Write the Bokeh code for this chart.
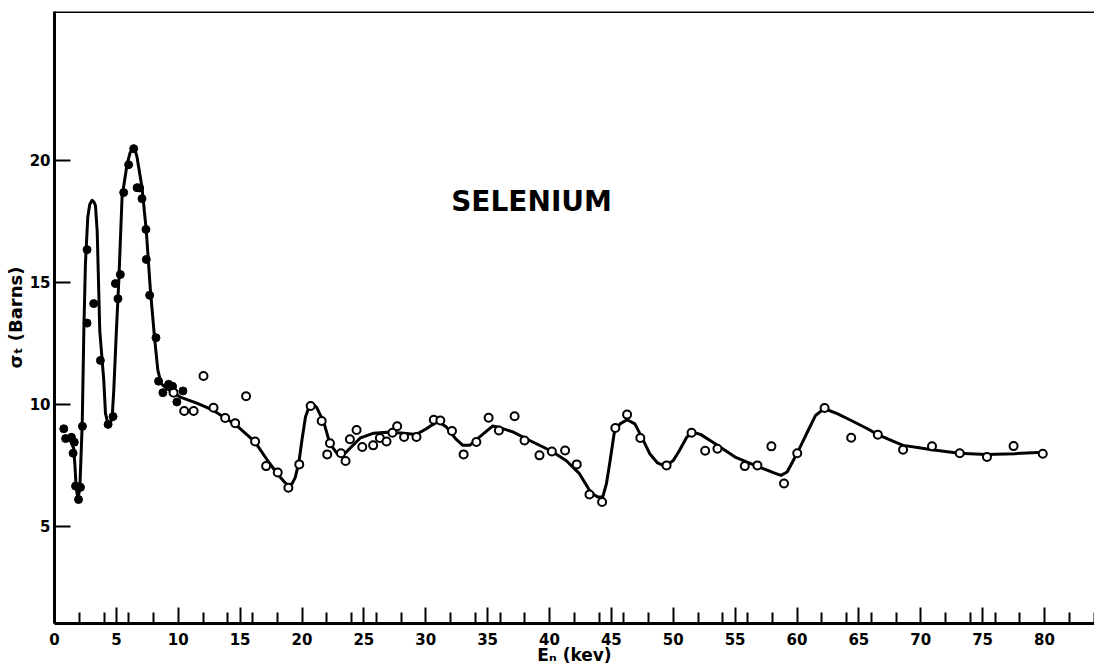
from bokeh.plotting import figure
from bokeh.models import FixedTicker, Range1d, Span, Label
from bokeh.embed import file_html
from bokeh.resources import INLINE

# Total neutron cross section of selenium vs neutron energy
# Filled points: low-energy measurements
filled_e = [0.75, 0.9, 1.37, 1.6, 1.5, 1.7, 1.94, 2.1, 2.26, 2.63, 2.63, 3.17,
            3.71, 4.33, 4.73, 4.92, 5.13, 5.32, 5.59, 5.99, 6.4, 6.67, 6.88,
            7.07, 7.39, 7.42, 7.69, 8.2, 8.41, 8.76, 9.22, 9.54, 9.89, 10.38]
filled_sigma = [9.0, 8.6, 8.65, 8.45, 8.0, 6.65, 6.1, 6.6, 9.1, 13.33, 16.34, 14.13,
                11.8, 9.18, 9.5, 14.95, 14.33, 15.32, 18.68, 19.82, 20.48, 18.88, 18.87,
                18.43, 17.17, 15.94, 14.47, 12.73, 10.95, 10.48, 10.82, 10.74, 10.1, 10.55]

# Open points: higher-energy measurements
open_e = [9.62, 10.48, 11.24, 12.04, 12.85, 13.79, 14.6, 15.48, 16.21, 17.1, 18.04,
          18.9, 19.78, 20.7, 21.59, 22.26, 22.04, 23.15, 23.52, 23.87, 24.41, 24.87,
          25.75, 26.29, 26.83, 27.31, 27.69, 28.25, 29.25, 30.65, 31.18, 32.12, 33.06,
          34.09, 35.08, 35.91, 37.18, 37.98, 39.19, 40.19, 41.26, 42.2, 43.23, 44.25,
          45.32, 46.27, 47.34, 49.46, 51.48, 52.58, 53.57, 55.78, 56.8, 57.93, 58.95,
          60.02, 62.23, 64.38, 66.53, 68.57, 70.91, 73.15, 75.35, 77.5, 79.86]
open_sigma = [10.48, 9.73, 9.73, 11.16, 9.86, 9.44, 9.23, 10.33, 8.48, 7.47, 7.21,
              6.58, 7.54, 9.93, 9.32, 8.41, 7.95, 8.0, 7.68, 8.57, 8.95, 8.25,
              8.32, 8.62, 8.48, 8.84, 9.1, 8.66, 8.66, 9.37, 9.34, 8.91, 7.95,
              8.46, 9.45, 8.93, 9.51, 8.52, 7.91, 8.07, 8.11, 7.54, 6.31, 6.0,
              9.03, 9.58, 8.62, 7.5, 8.84, 8.1, 8.18, 7.47, 7.5, 8.28, 6.76,
              8.0, 9.85, 8.63, 8.76, 8.14, 8.28, 8.0, 7.84, 8.29, 7.98]

# Hand-drawn fitted curve through the data
curve_e = [0.9, 1.3, 1.55, 1.65, 1.75, 1.9, 2.05, 2.24, 2.37, 2.5, 2.69, 2.85, 3.04,
           3.18, 3.31, 3.45, 3.66, 3.98, 4.12, 4.33, 4.5, 4.66, 4.79, 5.0, 5.2, 5.46,
           5.87, 6.1, 6.35, 6.5, 6.67, 7.07, 7.42, 7.75, 8.08, 8.35, 8.62, 9.1,
           10.16, 11.5, 12.85, 14.7, 16.2, 17.15, 17.8, 18.3, 18.65, 18.9, 19.2,
           19.45, 19.74, 20.0, 20.28, 20.5, 20.7, 20.95, 21.17, 21.76, 22.25, 22.84,
           23.25, 23.92, 24.73, 25.8, 26.8, 28.0, 29.25, 30.05, 30.5, 30.9, 31.3,
           31.67, 32.4, 33.0, 33.55, 34.5, 35.4, 35.97, 37.04, 38.4, 40.14, 41.34,
           42.42, 43.23, 43.6, 43.9, 44.3, 44.6, 44.9, 45.24, 45.7, 46.27, 46.9,
           47.45, 48.1, 48.73, 49.1, 49.46, 50.0, 50.5, 51.1, 51.57, 52.2, 53.2,
           55.0, 56.94, 58.2, 58.7, 59.2, 59.7, 60.25, 60.9, 61.5, 61.9, 62.23,
           63.25, 64.38, 65.7, 66.53, 67.8, 68.57, 70.0, 70.9, 73.1, 75.3, 77.6, 79.86]
curve_sigma = [8.6, 8.5, 8.2, 7.5, 6.6, 6.1, 6.6, 9.2, 13.0, 15.77, 17.68, 18.2, 18.36,
               18.3, 18.15, 17.1, 13.0, 11.0, 9.63, 9.18, 9.2, 9.48, 10.57, 13.0, 15.1, 18.5,
               19.86, 20.3, 20.52, 20.45, 20.13, 18.9, 17.1, 14.67, 12.76, 11.4, 10.85, 10.64,
               10.3, 10.05, 9.75, 9.14, 8.46, 7.75, 7.3, 6.98, 6.78, 6.68, 6.75,
               7.0, 7.6, 8.55, 9.48, 9.8, 9.96, 9.98, 9.89, 9.27, 8.39, 7.98,
               7.88, 8.22, 8.63, 8.82, 8.86, 8.83, 8.77, 9.0, 9.15, 9.27, 9.2,
               9.07, 8.6, 8.32, 8.32, 8.73, 9.11, 9.05, 8.87, 8.52, 8.09, 7.7,
               7.16, 6.48, 6.3, 6.2, 6.2, 6.75, 7.7, 8.86, 9.2, 9.37, 9.2,
               8.66, 7.98, 7.6, 7.52, 7.5, 7.7, 8.11, 8.66, 8.86, 8.77, 8.45,
               7.84, 7.43, 7.18, 7.09, 7.23, 7.7, 8.25, 8.93, 9.55, 9.71, 9.82,
               9.62, 9.34, 9.0, 8.76, 8.48, 8.32, 8.21, 8.14, 8.0, 7.95, 7.98, 8.04]

x_major = [0, 5, 10, 15, 20, 25, 30, 35, 40, 45, 50, 55, 60, 65, 70, 75, 80]
x_minor = [2, 4, 6, 8, 12, 14, 16, 18, 22, 24, 26, 28, 32, 34, 36, 38, 42, 44, 46, 48,
           52, 54, 56, 58, 62, 64, 66, 68, 72, 74, 76, 78, 82, 84]
y_major = [5, 10, 15, 20]

FONT = "DejaVu Sans"

p = figure(width=1094, height=668, output_backend="svg", toolbar_location=None,
           x_range=Range1d(0, 84.04), y_range=Range1d(1.02, 26.1),
           min_border_left=54, min_border_right=0, min_border_top=11,
           min_border_bottom=45)
p.outline_line_color = None
p.grid.visible = False
p.background_fill_color = "white"
p.border_fill_color = "white"

# Bottom axis: inward ticks, long at multiples of 5
xa = p.xaxis[0]
xa.ticker = FixedTicker(ticks=x_major, minor_ticks=x_minor)
xa.axis_line_width = 3
xa.major_tick_in = 16
xa.major_tick_out = 0
xa.minor_tick_in = 11
xa.minor_tick_out = 0
xa.major_tick_line_width = 2
xa.minor_tick_line_width = 2
xa.major_label_standoff = 9
xa.major_label_text_font = FONT
xa.major_label_text_font_style = "bold"
xa.major_label_text_font_size = "15px"
xa.major_label_text_color = "black"
xa.axis_label = "Eₙ (kev)"
xa.axis_label_text_font = FONT
xa.axis_label_text_font_style = "bold"
xa.axis_label_text_font_size = "17px"
xa.axis_label_text_color = "black"
xa.axis_label_standoff = -3

# Left axis
ya = p.yaxis[0]
ya.ticker = FixedTicker(ticks=y_major)
ya.axis_line_width = 3
ya.major_tick_in = 16
ya.major_tick_out = 0
ya.minor_tick_in = 0
ya.minor_tick_out = 0
ya.major_tick_line_width = 2
ya.major_label_standoff = 4
ya.major_label_text_font = FONT
ya.major_label_text_font_style = "bold"
ya.major_label_text_font_size = "15px"
ya.major_label_text_color = "black"
ya.axis_label = "σₜ (Barns)"
ya.axis_label_text_font = FONT
ya.axis_label_text_font_style = "bold"
ya.axis_label_text_font_size = "18px"
ya.axis_label_text_color = "black"
ya.axis_label_standoff = 1

# Top border of the frame
p.add_layout(Span(location=26.1, dimension="width", line_color="black", line_width=3))

p.line(curve_e, curve_sigma, line_color="black", line_width=3, line_join="round")
p.scatter(filled_e, filled_sigma, size=8, fill_color="black", line_color="black")
p.scatter(open_e, open_sigma, size=8, fill_color="white", line_color="black",
          line_width=2)

p.add_layout(Label(x=38.55, y=18.3, text="SELENIUM", text_font=FONT,
                   text_font_style="bold", text_font_size="28px",
                   text_align="center", text_baseline="middle",
                   text_color="black"))

open("out.html", "w").write(file_html(p, INLINE))
